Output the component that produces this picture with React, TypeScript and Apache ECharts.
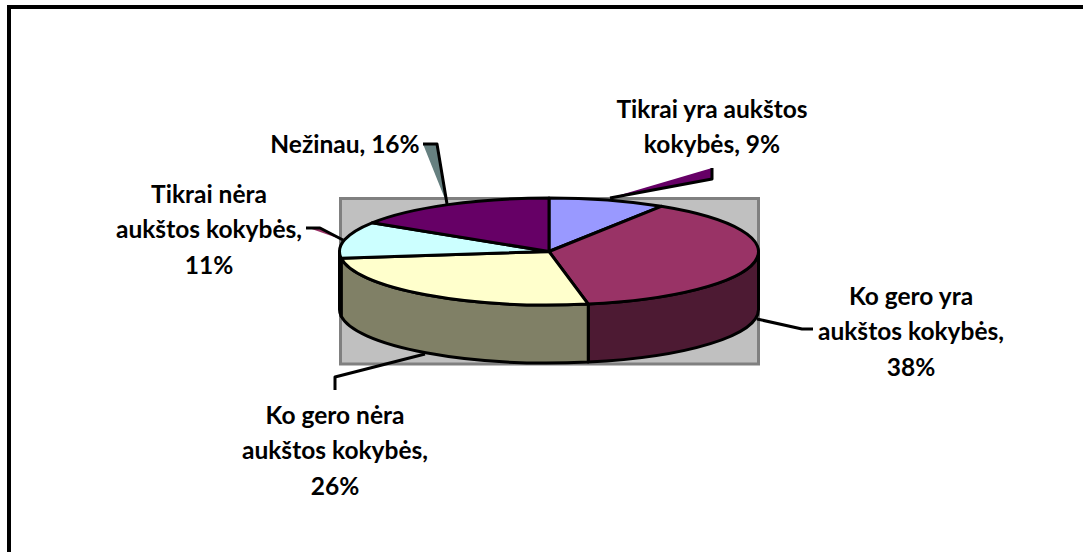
import React, { useEffect, useRef } from "react";
import * as echarts from "echarts";

const categories = [
  "Tikrai yra aukštos kokybės",
  "Ko gero yra aukštos kokybės",
  "Ko gero nėra aukštos kokybės",
  "Tikrai nėra aukštos kokybės",
  "Nežinau",
];
const values = [9, 38, 26, 11, 16];
const topColors = ["#9999FF", "#993366", "#FFFFCC", "#CCFFFF", "#660066"];
const sideColors = ["#4D4D80", "#4D1A33", "#808066", "#668080", "#330033"];
const labelLines = [
  ["Tikrai yra aukštos", "kokybės, 9%"],
  ["Ko gero yra", "aukštos kokybės,", "38%"],
  ["Ko gero nėra", "aukštos kokybės,", "26%"],
  ["Tikrai nėra", "aukštos kokybės,", "11%"],
  ["Nežinau, 16%"],
];

const CX = 549, CY = 251.5, RX = 209.5, RY = 53.5, DEPTH = 58;
const total = values.reduce((a, b) => a + b, 0);
const pt = (t: number, dy = 0) => [CX + RX * Math.sin(t), CY - RY * Math.cos(t) + dy];
const startAngle = (i: number) => (values.slice(0, i).reduce((a, b) => a + b, 0) / total) * 2 * Math.PI;

function renderSlice(params: any, api: any) {
  const i = params.dataIndex;
  const a = startAngle(i);
  const b = a + (api.value(0) / total) * 2 * Math.PI;
  const children: any[] = [];
  const lo = Math.max(a, Math.PI / 2);
  const hi = Math.min(b, (3 * Math.PI) / 2);
  const stroke = { stroke: "#000", lineWidth: 3, lineJoin: "round" };
  if (hi > lo) {
    const p = pt(lo), q = pt(hi), q2 = pt(hi, DEPTH), p2 = pt(lo, DEPTH);
    children.push({
      type: "path",
      shape: { pathData: `M${p} A${RX} ${RY} 0 0 1 ${q} L${q2} A${RX} ${RY} 0 0 0 ${p2} Z`.replace(/,/g, " ") },
      style: { fill: sideColors[i], ...stroke },
    });
  }
  const s = pt(a), e = pt(b);
  const large = b - a > Math.PI ? 1 : 0;
  children.push({
    type: "path",
    z2: 5,
    shape: { pathData: `M${CX} ${CY} L${s} A${RX} ${RY} 0 ${large} 1 ${e} Z`.replace(/,/g, " ") },
    style: { fill: topColors[i], ...stroke },
  });
  return { type: "group", children };
}

const line = (points: number[][]) => ({
  type: "polyline",
  shape: { points },
  style: { fill: "none", stroke: "#000", lineWidth: 3, lineJoin: "round" },
});
const wedge = (points: number[][], fill: string) => ({
  type: "polygon",
  shape: { points },
  style: { fill, stroke: "none" },
});
const label = (i: number, x: number, y: number) =>
  labelLines[i].map((t, n) => ({
    type: "text",
    x,
    y: y + n * 35.5,
    style: {
      text: t,
      fill: "#000",
      font: "bold 24.5px Lato, 'Noto Sans', sans-serif",
      align: "center",
      verticalAlign: "middle",
    },
  }));

export default function App() {
  const ref = useRef<HTMLDivElement>(null);
  useEffect(() => {
    const chart = echarts.init(ref.current!, null, { renderer: "svg" });
    chart.setOption({
      animation: false,
      backgroundColor: "#fff",
      graphic: {
        elements: [
          { type: "rect", shape: { x: 7, y: 5, width: 1076, height: 4 }, style: { fill: "#000" } },
          { type: "rect", shape: { x: 7, y: 5, width: 4, height: 547 }, style: { fill: "#000" } },
          {
            type: "rect",
            shape: { x: 340.5, y: 198.5, width: 418, height: 165.5 },
            style: { fill: "#C0C0C0", stroke: "#808080", lineWidth: 3 },
          },
          wedge([[423, 144], [437, 144], [447, 204]], "#668080"),
          line([[423, 144], [437, 144], [447, 204]]),
          wedge([[610, 198], [712, 168], [712, 179]], "#660066"),
          line([[610, 198], [712, 179], [712, 168]]),
          wedge([[306, 227], [320, 227], [343, 240]], "#993366"),
          line([[306, 228], [320, 228], [343, 240]]),
          line([[757, 319], [802, 329], [813, 329]]),
          line([[425, 354], [335, 377], [335, 390]]),
          ...label(0, 712, 108),
          ...label(1, 911, 295),
          ...label(2, 335, 414),
          ...label(3, 209, 193),
          ...label(4, 345, 143),
        ],
      },
      series: [
        {
          type: "custom",
          coordinateSystem: "none",
          silent: true,
          data: values.map((v, i) => ({ name: categories[i], value: [v] })),
          renderItem: renderSlice,
        },
      ],
    });
    return () => chart.dispose();
  }, []);
  return <div ref={ref} style={{ position: "fixed", left: 0, top: 0, width: 1083, height: 552 }} />;
}
